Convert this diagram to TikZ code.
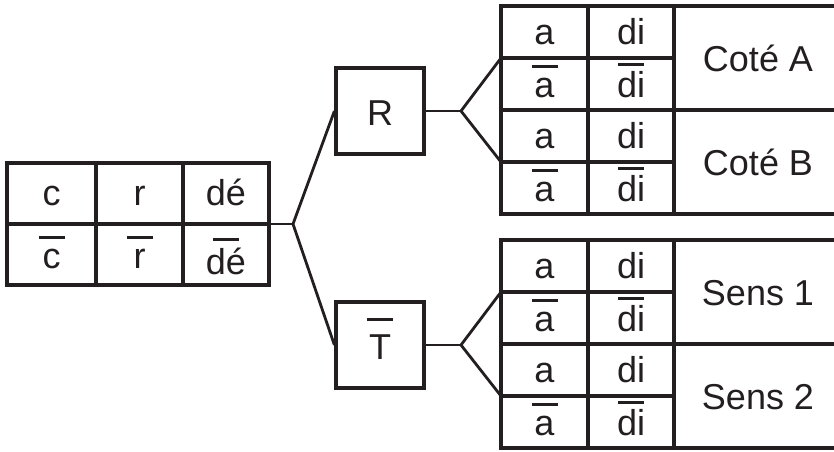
\documentclass[tikz,border=0pt]{standalone}
\usepackage{fontspec}
\setmainfont{Liberation Sans}
\usetikzlibrary{positioning}
\definecolor{encre}{RGB}{35,31,32}
\newcommand{\barre}[2][4pt]{\vbox{\hrule width 26pt height 2.8pt\kern#1\hbox to 26pt{\hss\vphantom{T}#2\hss}}}

\begin{document}
\begin{tikzpicture}[
  x=1pt, y=-1pt,
  font=\fontsize{36}{40}\selectfont,
  every node/.style={text=encre},
  trait/.style={draw=encre, line width=3.2pt},
  branche/.style={draw=encre, line width=2.8pt, line join=miter},
  boite/.style={trait, minimum width=88pt, minimum height=86pt, inner sep=0pt, text height=28pt, text depth=0pt},
  cell/.style={anchor=base, inner sep=0pt}
]
\useasboundingbox (0,0) rectangle (834,451);

\node[trait, minimum width=262pt, minimum height=122pt] (tab) at (138,224) {};
\draw[trait] (tab.west) -- (tab.east);
\draw[trait] (96,163) -- (96,285);
\draw[trait] (183,163) -- (183,285);
\node[cell] (c) at (51.5,205) {c};
\node[cell] (r) at (139.5,205) {r};
\node[cell] (de) at (226,205) {dé};
\node[cell] (cb) at (51.5,268) {\barre{c}};
\node[cell] (rb) at (139.5,268) {\barre{r}};
\node[cell] (deb) at (226,274) {\barre[7pt]{dé}};

\node[boite] (R) at (380,111) {R};
\node[boite] (T) at (380,345) {\barre[13pt]{T}};

\foreach \y/\lab [count=\i] in {6/Coté A,110/Coté B,240/Sens 1,344/Sens 2}{
  \draw[trait] (834,\y) -- (501,\y) -- (501,\y+104) -- (834,\y+104);
  \draw[trait] (501,\y+52) -- (674,\y+52);
  \draw[trait] (588,\y) -- (588,\y+104);
  \draw[trait] (674,\y) -- (674,\y+104);
  \node[cell] (a\i) at (544.5,\y+38) {a};
  \node[cell] (di\i) at (631,\y+38) {di};
  \node[cell] (ab\i) at (544.5,\y+91) {\barre{a}};
  \node[cell] (dib\i) at (631,\y+91) {\barre[5pt]{di}};
  \node[cell] (l\i) at (758,\y+65) {\lab};
  \coordinate (g\i) at (501,\y+52);
}

\coordinate (fk) at (293,224);
\coordinate (fR) at (461,111);
\coordinate (fT) at (461,345);
\draw[branche] (tab.east) -- (fk);
\draw[branche] (R.west) -- (fk) -- (T.west);
\draw[branche] (R.east) -- (fR);
\draw[branche] (g1) -- (fR) -- (g2);
\draw[branche] (T.east) -- (fT);
\draw[branche] (g3) -- (fT) -- (g4);

\end{tikzpicture}
\end{document}
